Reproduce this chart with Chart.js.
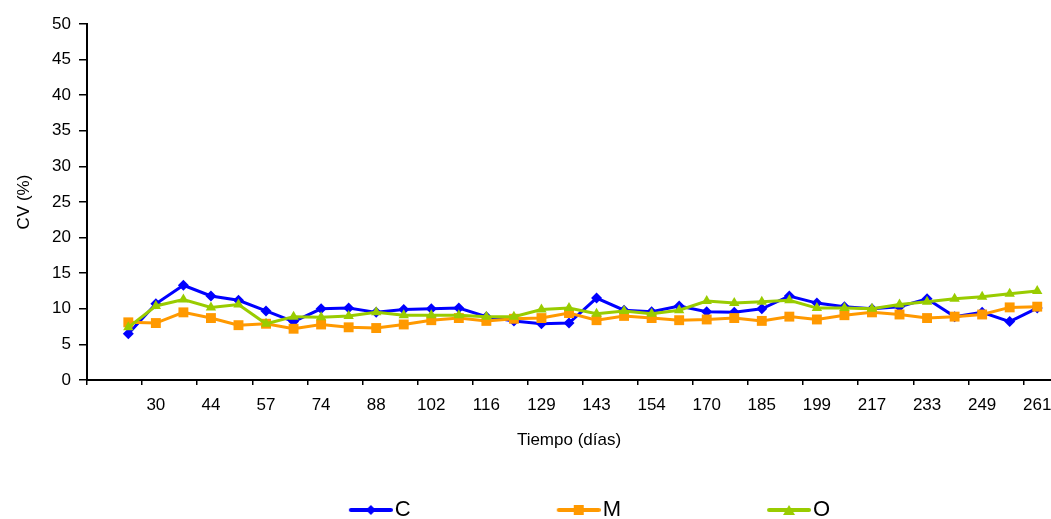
<!DOCTYPE html>
<html>
<head>
<meta charset="utf-8">
<script src="https://cdn.jsdelivr.net/npm/chart.js@4/dist/chart.umd.min.js"></script>
<style>
  html, body { margin: 0; padding: 0; background: #fff; }
  #wrap { width: 1051px; height: 519px; }
</style>
</head>
<body>
<div id="wrap"><canvas id="chart" width="1051" height="519"></canvas></div>
<script>
// tick labels, one per category (every other one is left blank as in the original)
const days = ['', '', '30', '', '44', '', '57', '', '74', '', '88', '', '102', '', '116', '', '129',
  '', '143', '', '154', '', '170', '', '185', '', '199', '', '217', '', '233', '', '249', '', '261']

const cvC = [null, 6.5, 10.7, 13.3, 11.8, 11.2, 9.7, 8.2, 10.0, 10.1, 9.5, 9.9, 10.0, 10.1, 8.9, 8.3, 7.9,
  8.0, 11.5, 9.8, 9.6, 10.4, 9.6, 9.5, 10.0, 11.8, 10.8, 10.3, 10.0, 10.3, 11.4, 8.9, 9.5, 8.2, 10.1]
const cvM = [null, 8.1, 8.0, 9.5, 8.7, 7.7, 7.9, 7.2, 7.8, 7.4, 7.3, 7.8, 8.4, 8.7, 8.3, 8.6, 8.7,
  9.4, 8.4, 9.0, 8.7, 8.4, 8.5, 8.7, 8.3, 8.9, 8.5, 9.1, 9.5, 9.2, 8.7, 8.9, 9.2, 10.2, 10.3]
const cvO = [null, 7.4, 10.4, 11.3, 10.2, 10.6, 7.9, 8.9, 8.8, 9.0, 9.5, 9.1, 9.1, 9.1, 8.9, 8.9, 9.9,
  10.1, 9.3, 9.7, 9.3, 9.8, 11.1, 10.8, 11.0, 11.2, 10.1, 10.1, 10.0, 10.6, 11.0, 11.4, 11.7, 12.1, 12.5]

const FONT = "'Liberation Sans', Arial, sans-serif"
const LEG_W = 163 // legend symbol slot

// legend symbol: short line with the marker in the middle
function legendIcon(color, marker) {
  const c = document.createElement('canvas')
  c.width = LEG_W + 18
  c.height = 14
  const g = c.getContext('2d')
  const x1 = c.width - 44, x2 = c.width, cx = (x1 + x2) / 2, cy = 7
  g.strokeStyle = color
  g.lineWidth = 4
  g.lineCap = 'round'
  g.beginPath(); g.moveTo(x1 + 2, cy); g.lineTo(x2 - 2, cy); g.stroke()
  g.fillStyle = color
  g.beginPath()
  if (marker === 'diamond') {
    g.moveTo(cx, cy - 5); g.lineTo(cx + 5, cy); g.lineTo(cx, cy + 5); g.lineTo(cx - 5, cy)
  } else if (marker === 'square') {
    g.rect(cx - 5, cy - 5, 10, 10)
  } else {
    g.moveTo(cx, cy - 5); g.lineTo(cx + 6, cy + 5); g.lineTo(cx - 6, cy + 5)
  }
  g.closePath(); g.fill()
  return c
}

const series = [
  { label: 'C', data: cvC, color: '#0000ff', style: 'rectRot', radius: 5.5, marker: 'diamond', order: 3 },
  { label: 'M', data: cvM, color: '#ff9900', style: 'rect', radius: 7, marker: 'square', order: 2 },
  { label: 'O', data: cvO, color: '#99cc00', style: 'triangle', radius: 6, marker: 'triangle', order: 1 }
]

new Chart(document.getElementById('chart'), {
  type: 'line',
  data: {
    labels: days,
    datasets: series.map(s => ({
      label: s.label,
      data: s.data,
      borderColor: s.color,
      backgroundColor: s.color,
      borderWidth: 3,
      pointStyle: s.style,
      pointRadius: s.radius,
      pointBorderWidth: 0,
      pointBackgroundColor: s.color,
      tension: 0,
      order: s.order,
      clip: false
    }))
  },
  options: {
    animation: false,
    responsive: false,
    layout: { autoPadding: false, padding: { top: 24, right: 0, left: 0, bottom: -12 } },
    plugins: {
      tooltip: { enabled: false },
      legend: {
        position: 'bottom',
        labels: {
          usePointStyle: true,
          pointStyleWidth: LEG_W,
          padding: 18,
          color: '#000',
          font: { family: FONT, size: 22 },
          generateLabels: () => series.map((s, i) => ({
            text: s.label,
            pointStyle: legendIcon(s.color, s.marker),
            fillStyle: s.color,
            strokeStyle: s.color,
            lineWidth: 0,
            fontColor: '#000',
            hidden: false,
            datasetIndex: i
          }))
        }
      }
    },
    scales: {
      x: {
        offset: true,
        // fixed height, and let the last label run up to the canvas edge
        afterFit: scale => { scale.height = 101; scale.paddingRight = 0; scale.paddingLeft = 0 },
        grid: {
          offset: true,
          drawOnChartArea: false,
          tickLength: 5,
          lineWidth: 1.5,
          // tick marks only every second category boundary
          color: ctx => ctx.index % 2 === 0 ? '#000' : 'rgba(0,0,0,0)'
        },
        border: { color: '#000', width: 2 },
        ticks: {
          autoSkip: false,
          maxRotation: 0,
          padding: 0,
          color: '#000',
          font: { family: FONT, size: 17, lineHeight: 2.4 }
        },
        title: {
          display: true,
          text: 'Tiempo (días)',
          color: '#000',
          font: { family: FONT, size: 17 },
          padding: { top: 0, bottom: 30 }
        }
      },
      y: {
        min: 0,
        max: 50,
        afterFit: scale => { scale.width = 87 },
        grid: { drawOnChartArea: false, tickLength: 8, lineWidth: 1.5, color: '#000' },
        border: { color: '#000', width: 2 },
        ticks: {
          stepSize: 5,
          padding: 8,
          color: '#000',
          font: { family: FONT, size: 17 }
        },
        title: {
          display: true,
          text: 'CV (%)',
          color: '#000',
          font: { family: FONT, size: 17 },
          padding: { top: 14, bottom: 0 }
        }
      }
    }
  }
})
</script>
</body>
</html>
